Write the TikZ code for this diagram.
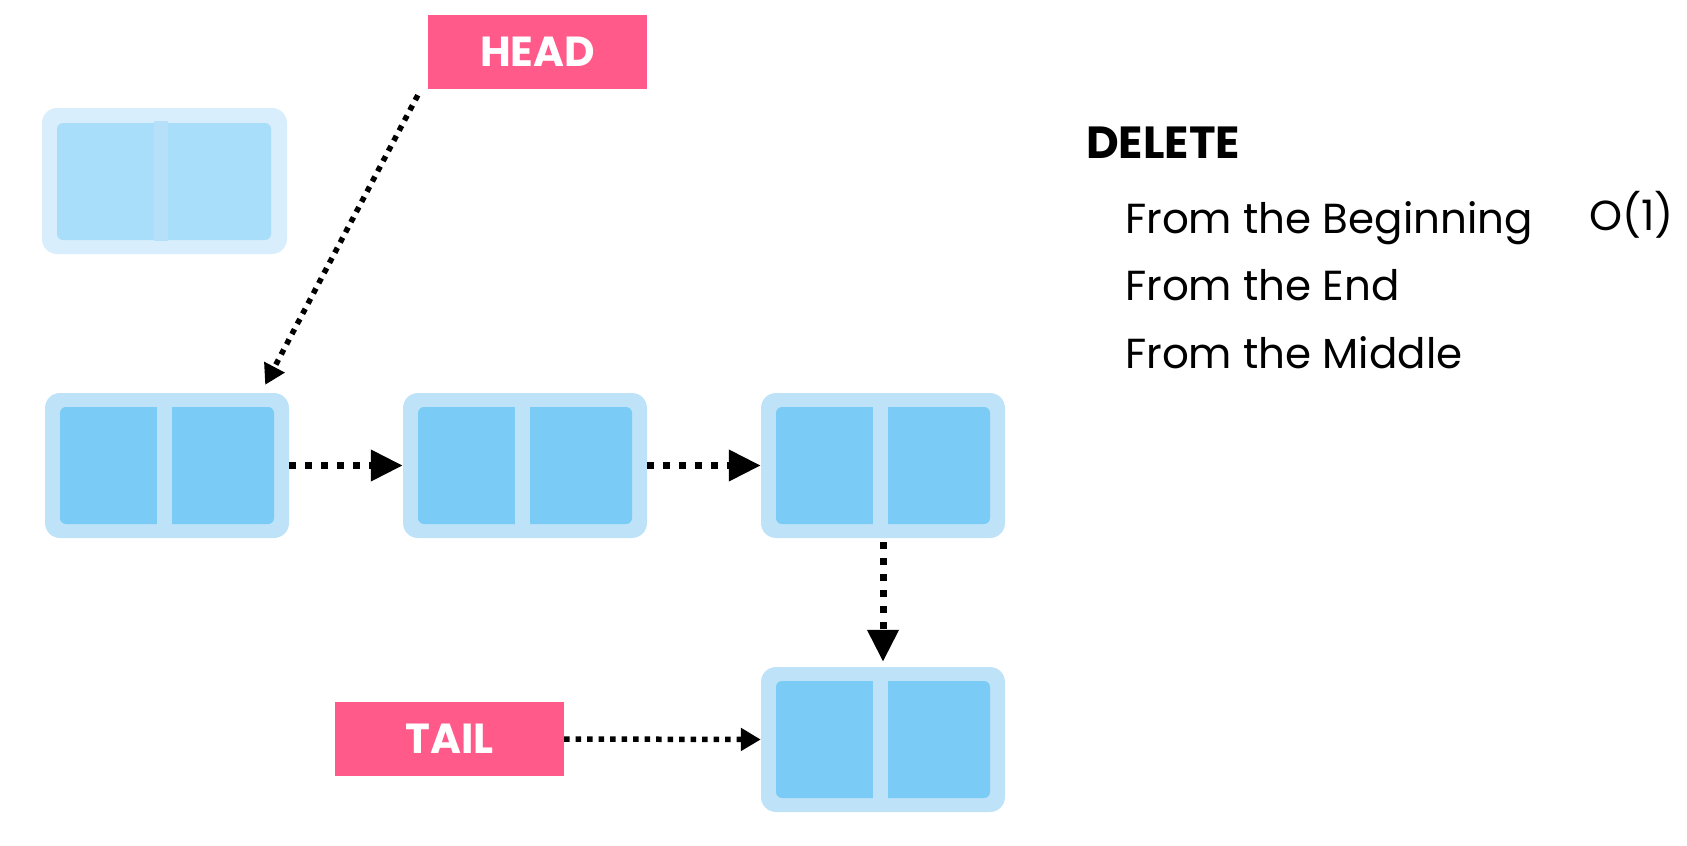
\documentclass[tikz,border=0pt]{standalone}
\usepackage{fontspec}
\setmainfont{Poppins}
\usetikzlibrary{arrows.meta,positioning,calc}
\definecolor{cellrim}{HTML}{BEE3F8}
\definecolor{cellfill}{HTML}{7ACBF5}
\definecolor{ghostrim}{HTML}{D8EEFC}
\definecolor{ghostfill}{HTML}{A8DEF9}
\definecolor{ghostbar}{HTML}{B6DFF9}
\definecolor{tagpink}{HTML}{FF5A8A}
\tikzset{
  cellbox/.style={rectangle, rounded corners=15pt, fill=cellrim, minimum width=244pt, minimum height=145pt, inner sep=0pt},
  tagbox/.style={rectangle, fill=tagpink, text=white, font=\fontsize{42}{42}\selectfont\bfseries, minimum height=74pt, inner sep=0pt},
  listtxt/.style={font=\fontsize{42}{42}\selectfont, anchor=base west, inner sep=0pt},
  bigptr/.style={line width=7pt, dash pattern=on 7pt off 9pt, -{Triangle[length=32pt,width=30pt]}},
  smallptr/.style={line width=5.5pt, dash pattern=on 5.5pt off 6pt, -{Triangle[length=20pt,width=22pt]}},
}

\begin{document}
\begin{tikzpicture}[x=1pt,y=-1pt]
  \useasboundingbox (0,0) rectangle (1687,846);
  % the cell that was taken off the front of the list
  \node[cellbox, fill=ghostrim, minimum width=245pt, minimum height=146pt] (old) at (164.5,181) {};
  \fill[ghostfill, rounded corners=6pt] ($(old.center)+(-107.5,-58)$) rectangle ($(old.center)+(106.5,59)$);
  \fill[ghostbar] ($(old.center)+(-10.5,-60)$) rectangle ($(old.center)+(3.5,60)$);
  % cells still in the list: data part | next part
  \foreach \nm/\cx/\cy in {n1/167/465.5, n2/525/465.5, n3/883/465.5, n4/883/739.5}{
    \node[cellbox] (\nm) at (\cx,\cy) {};
    \fill[cellfill, rounded corners=6pt] ($(\nm.center)+(-107,-58.5)$) rectangle ($(\nm.center)+(107,58.5)$);
    \fill[cellrim] ($(\nm.center)+(-10,-60)$) rectangle ($(\nm.center)+(5,60)$);
  }
  % pointers
  \node[tagbox, minimum width=219pt] (head) at (537.5,52) {HEAD};
  \node[tagbox, minimum width=229pt] (tail) at (449.5,739) {TAIL};
  \coordinate (headfrom) at ($(head.south west)+(-10,6)$);
  \coordinate (headto) at ($(n1.north east)+(-24,-8)$);
  \draw[smallptr] (headfrom) -- (headto);
  \draw[smallptr] (tail.east) -- (n4.west);
  \draw[bigptr] (n1.east) -- (n2.west);
  \draw[bigptr] (n2.east) -- (n3.west);
  \draw[bigptr, shorten <=4pt, shorten >=5pt] (n3.south) -- (n4.north);
  % operation list
  \node[listtxt, font=\fontsize{45}{45}\selectfont\bfseries] (del) at (1086,158) {DELETE};
  \node[listtxt] (beg) at (1125,233) {From the Beginning};
  \node[listtxt] (end) at (1125,300) {From the End};
  \node[listtxt] (mid) at (1125,368) {From the Middle};
  \node[listtxt] (cost) at (1589,230) {O(1)};
\end{tikzpicture}
\end{document}
